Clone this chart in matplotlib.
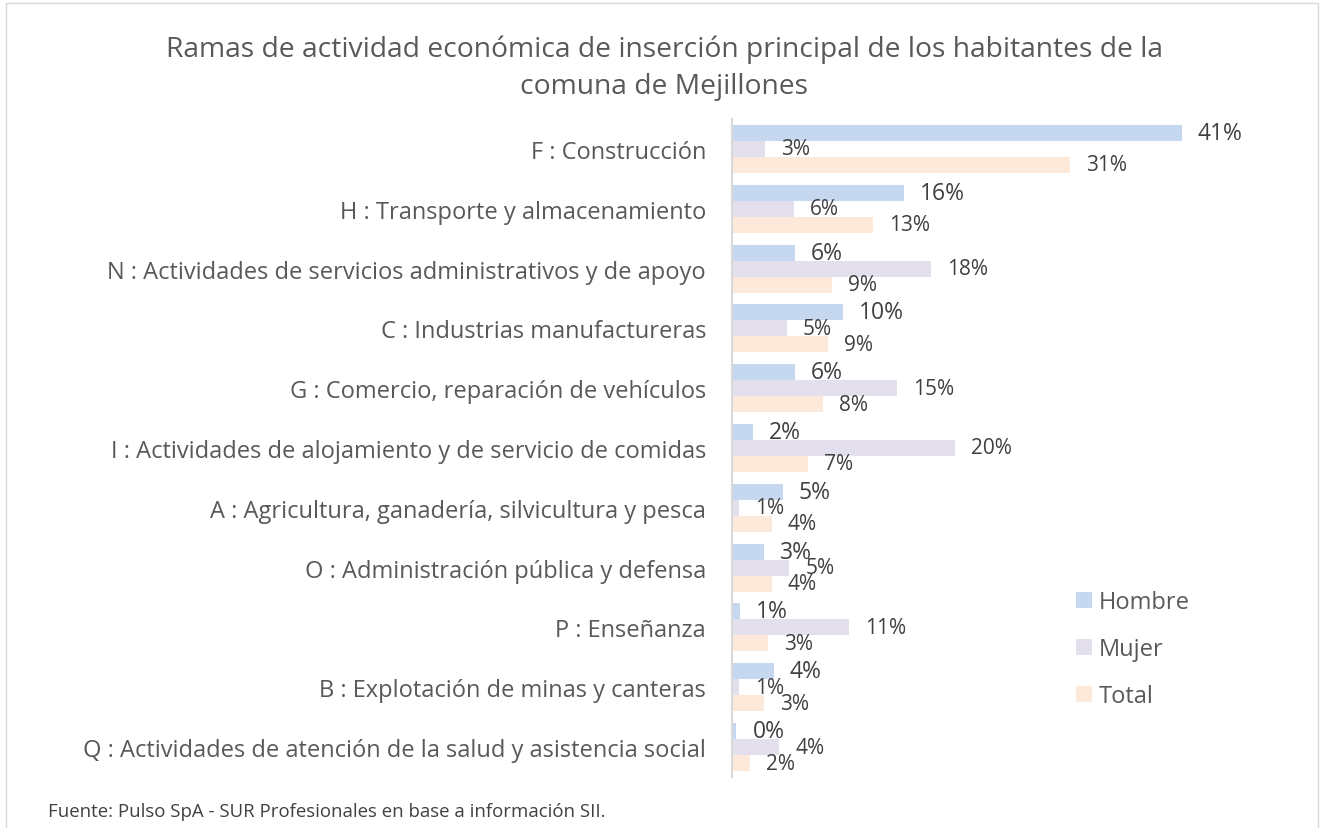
import matplotlib.pyplot as plt
import numpy as np
from matplotlib.patches import Rectangle

categories = [
    "F : Construcción",
    "H : Transporte y almacenamiento",
    "N : Actividades de servicios administrativos y de apoyo",
    "C : Industrias manufactureras",
    "G : Comercio, reparación de vehículos",
    "I : Actividades de alojamiento y de servicio de comidas",
    "A : Agricultura, ganadería, silvicultura y pesca",
    "O : Administración pública y defensa",
    "P : Enseñanza",
    "B : Explotación de minas y canteras",
    "Q : Actividades de atención de la salud y asistencia social",
]
hombre = [40.9, 15.6, 5.7, 10.1, 5.7, 1.9, 4.6, 2.9, 0.7, 3.8, 0.4]
mujer = [3.0, 5.6, 18.1, 5.0, 15.0, 20.3, 0.6, 5.2, 10.6, 0.6, 4.3]
total = [30.7, 12.8, 9.1, 8.7, 8.3, 6.9, 3.6, 3.6, 3.3, 2.9, 1.6]

series = [("Hombre", hombre, "#c6d8f0", 16.5),
          ("Mujer", mujer, "#e4dfec", 15),
          ("Total", total, "#fde9d9", 15)]

plt.rcParams["font.family"] = ["Open Sans", "DejaVu Sans"]

fig = plt.figure(figsize=(13.28, 8.29), dpi=100)
ax = fig.add_axes([732 / 1328, 1 - 778 / 829, 520 / 1328, 658 / 829])

y = np.arange(len(categories))
h = 0.267
px = 11.0  # pixels per percent
for i, (name, vals, color, fs) in enumerate(series):
    pos = y + (i - 1) * h
    ax.barh(pos, vals, height=h, color=color, label=name)
    for p, v in zip(pos, vals):
        ax.annotate(f"{v:.0f}%", (v, p), xytext=(16, 0), textcoords="offset pixels",
                    va="center", ha="left", fontsize=fs, color="#404040")

ax.set_xlim(0, 520 / px)
ax.set_ylim(len(categories) - 0.5, -0.5)
ax.set_yticks(y)
ax.set_yticklabels(categories, fontsize=17, color="#595959")
ax.tick_params(axis="y", length=0, pad=18.7)
ax.set_xticks([])
for s in ["top", "right", "bottom"]:
    ax.spines[s].set_visible(False)
ax.spines["left"].set_color("#d9d9d9")
ax.spines["left"].set_linewidth(1.5)

leg = ax.legend(loc="upper left", bbox_to_anchor=(323 / 520, (778 - 570) / 658),
                frameon=False, fontsize=17, handlelength=0.65, handleheight=0.65,
                labelspacing=0.97, handletextpad=0.3, labelcolor="#595959")

fig.text(0.5, 1 - 50 / 829, "Ramas de actividad económica de inserción principal de los habitantes de la",
         ha="center", va="center", fontsize=20.3, color="#595959")
fig.text(0.5, 1 - 87 / 829, "comuna de Mejillones",
         ha="center", va="center", fontsize=20.3, color="#595959")
fig.text(48 / 1328, 1 - 812 / 829, "Fuente: Pulso SpA - SUR Profesionales en base a información SII.",
         ha="left", va="center", fontsize=13.4, color="#404040")

fig.patches.append(Rectangle((6 / 1328, -0.01), 1312 / 1328, 1 - 4 / 829 + 0.01,
                             transform=fig.transFigure, fill=False,
                             edgecolor="#d9d9d9", linewidth=1))

fig.savefig("out.png", dpi=100, facecolor="white")
